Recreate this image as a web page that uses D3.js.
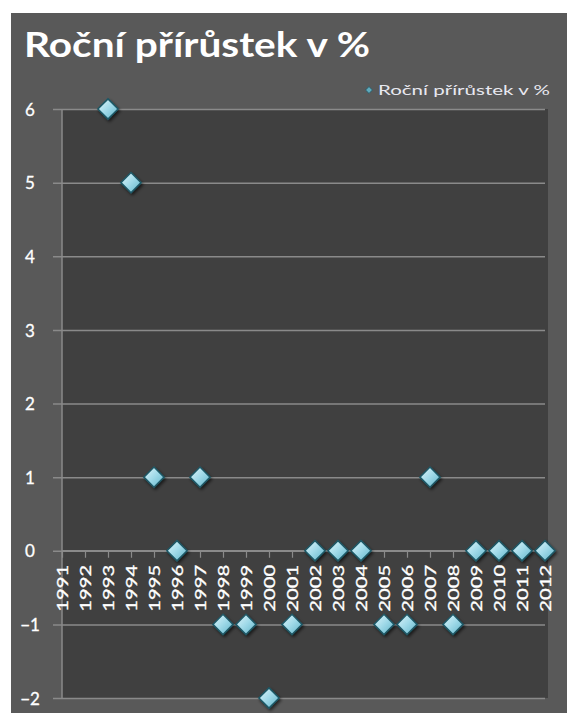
<!DOCTYPE html>
<html><head><meta charset="utf-8">
<script src="https://cdn.jsdelivr.net/npm/d3@7"></script>
<style>html,body{margin:0;padding:0;background:#fff;}svg{display:block;}</style>
</head><body>
<svg id="c" width="567" height="715"></svg>
<script>
const years = ["1991","1992","1993","1994","1995","1996","1997","1998","1999","2000","2001","2002","2003","2004","2005","2006","2007","2008","2009","2010","2011","2012"];
const values = [null,null,6,5,1,0,1,-1,-1,-2,-1,0,0,0,-1,-1,1,-1,0,0,0,0];
const yTicks = [6,5,4,3,2,1,0,-1,-2];
const title = "Roční přírůstek v %";
const seriesName = "Roční přírůstek v %";

const svg = d3.select("#c");
const font = "Lato, 'Open Sans', sans-serif";
const defs = svg.append("defs");
const g1 = defs.append("linearGradient").attr("id","dg").attr("x1","0").attr("y1","0").attr("x2","1").attr("y2","1");
g1.append("stop").attr("offset","0").attr("stop-color","#e2f6fb");
g1.append("stop").attr("offset","0.5").attr("stop-color","#9fd9e8");
g1.append("stop").attr("offset","1").attr("stop-color","#5fb3c8");
const f = defs.append("filter").attr("id","sh").attr("x","-50%").attr("y","-50%").attr("width","200%").attr("height","200%");
f.append("feDropShadow").attr("dx",1.5).attr("dy",2).attr("stdDeviation",1.5).attr("flood-color","#000").attr("flood-opacity",0.6);

// outer chart area
svg.append("rect").attr("x",11).attr("y",13).attr("width",556).attr("height",700).attr("fill","#595959");

const x = d3.scalePoint().domain(years).range([62,545]);
const y = d3.scaleLinear().domain([-2,6]).range([698,109]);

// plot area
svg.append("rect").attr("x",62).attr("y",109).attr("width",486).attr("height",589).attr("fill","#404040");

// gridlines + y axis
const yAxis = d3.axisLeft(y).tickValues(yTicks).tickSize(-(545-53)).tickPadding(0).tickFormat(d3.format("d"));
const ya = svg.append("g").attr("transform","translate(53,0)").call(yAxis);
ya.select(".domain").remove();
ya.selectAll(".tick line").attr("stroke","#8a8a8a").attr("stroke-width",1.5);
ya.selectAll(".tick text").attr("x",-23).attr("text-anchor","middle").attr("dy","0.36em")
  .attr("fill","#ffffff").attr("font-family",font).attr("font-size",17)
  .attr("stroke","#ffffff").attr("stroke-width",0.3);

// vertical axis line
svg.append("line").attr("x1",62).attr("x2",62).attr("y1",109).attr("y2",698).attr("stroke","#8a8a8a").attr("stroke-width",1.5);

// x axis at 0
const xAxis = d3.axisBottom(x).tickSize(7).tickPadding(3);
const xa = svg.append("g").attr("transform",`translate(0,${y(0)})`).call(xAxis);
xa.select(".domain").attr("stroke","#8a8a8a").attr("stroke-width",1.5).attr("d",`M62,0H545`);
xa.selectAll(".tick line").attr("stroke","#8a8a8a").attr("stroke-width",1.2);
xa.selectAll(".tick text").attr("transform","rotate(-90)").attr("text-anchor","end")
  .attr("x",-14).attr("y",0).attr("dy","0.36em")
  .attr("fill","#ffffff").attr("font-family",font).attr("font-size",15.5)
  .attr("stroke","#ffffff").attr("stroke-width",0.3)
  .attr("textLength",47).attr("lengthAdjust","spacingAndGlyphs");

// markers
const pts = years.map((yr,i)=>({yr, v:values[i]})).filter(d=>d.v!==null);
svg.append("g").selectAll("path").data(pts).join("path")
  .attr("d", d3.symbol().type(d3.symbolDiamond2).size(260))
  .attr("transform", d=>`translate(${x(d.yr)},${y(d.v)})`)
  .attr("fill","url(#dg)").attr("stroke","#1f5866").attr("stroke-width",1.5)
  .attr("filter","url(#sh)");

// title
svg.append("text").attr("x",24).attr("y",57).text(title)
  .attr("fill","#ffffff").attr("font-family",font).attr("font-weight","bold").attr("font-size",34)
  .attr("textLength",346).attr("lengthAdjust","spacingAndGlyphs");

// legend
svg.append("path").attr("d", d3.symbol().type(d3.symbolDiamond2).size(30))
  .attr("transform","translate(369,90)").attr("fill","#5fa9bb").attr("stroke","#1f5866").attr("stroke-width",0.8);
svg.append("text").attr("x",378).attr("y",95).text(seriesName)
  .attr("fill","#e8e8f0").attr("font-family",font).attr("font-size",13.5)
  .attr("textLength",172).attr("lengthAdjust","spacingAndGlyphs");
</script>
</body></html>
